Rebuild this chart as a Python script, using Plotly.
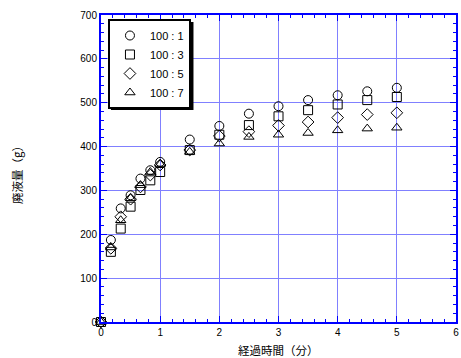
import plotly.graph_objects as go

time_min = [0, 1/6, 2/6, 3/6, 4/6, 5/6, 1.0, 1.5, 2.0, 2.5, 3.0, 3.5, 4.0, 4.5, 5.0]
s_100_1 = [0, 187, 259, 289, 327, 346, 365, 416, 447, 475, 492, 506, 517, 526, 534]
s_100_3 = [0, 160, 213, 263, 301, 323, 342, 392, 427, 449, 469, 483, 496, 506, 513]
s_100_5 = [0, 168, 240, 280, 308, 335, 358, 392, 424, 434, 448, 456, 466, 473, 477]
s_100_7 = [0, 170, 232, 282, 312, 342, 360, 388, 407, 422, 427, 431, 437, 441, 443]

series = [
    ("100 : 1", s_100_1, "circle-open"),
    ("100 : 3", s_100_3, "square-open"),
    ("100 : 5", s_100_5, "diamond-open"),
    ("100 : 7", s_100_7, "triangle-up-open"),
]

fig = go.Figure()
for name, vals, sym in series:
    fig.add_trace(go.Scatter(
        x=time_min, y=vals, mode="markers", name=name,
        marker=dict(symbol=sym, size=9, color="black", line=dict(width=1, color="black")),
        cliponaxis=False,
    ))

axis_common = dict(
    showline=True, linecolor="#0000ff", linewidth=2, mirror="allticks",
    ticks="inside", ticklen=6, tickcolor="#0000ff", tickwidth=1,
    showgrid=True, gridcolor="#8080ff", gridwidth=1, zeroline=False,
    tickfont=dict(family="Liberation Sans, Arial", size=10, color="black"),
)

fig.update_xaxes(range=[0, 6], dtick=1, tick0=0,
                 minor=dict(ticks="inside", ticklen=3, dtick=0.2, tickcolor="#0000ff", showgrid=False),
                 **axis_common)
fig.update_yaxes(range=[0, 700], dtick=100, tick0=0,
                 minor=dict(ticks="inside", ticklen=3, dtick=20, tickcolor="#0000ff", showgrid=False),
                 **axis_common)

# legend shadow
fig.add_shape(type="rect", xref="paper", yref="paper",
              x0=(111 - 101) / 357, x1=(194 - 101) / 357,
              y0=(322 - 110) / 307, y1=(322 - 22) / 307,
              fillcolor="black", line=dict(width=0), layer="above")

fig.update_layout(
    width=461, height=358,
    margin=dict(l=101, r=3, t=15, b=36),
    paper_bgcolor="white", plot_bgcolor="white",
    font=dict(family="Liberation Sans, Arial", size=10, color="black"),
    legend=dict(x=(108 - 101) / 357, y=(322 - 19) / 307, xanchor="left", yanchor="top",
                bgcolor="white", bordercolor="black", borderwidth=2,
                font=dict(size=11), itemwidth=30),
    showlegend=True,
    annotations=[
        dict(text="経過時間（分）", xref="paper", yref="paper", x=0.5, y=(322 - 350) / 307,
             showarrow=False, yanchor="middle", xanchor="center",
             font=dict(family="Noto Sans CJK JP", size=11.5, color="black")),
        dict(text="廃液量（g）", xref="paper", yref="paper", x=(16 - 101) / 357, y=0.49,
             showarrow=False, textangle=-90, xanchor="center", yanchor="middle",
             font=dict(family="Noto Sans CJK JP", size=11.5, color="black")),
    ],
)

fig.write_html("out.html", config={"displayModeBar": False},
               post_script="document.body.style.margin='0px';document.body.style.overflow='hidden';")
